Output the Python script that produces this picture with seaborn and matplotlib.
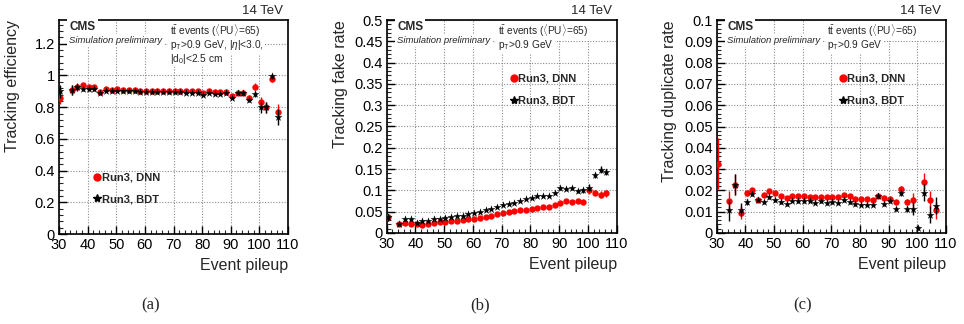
import numpy as np
import pandas as pd
import matplotlib
matplotlib.use("Agg")
import matplotlib.pyplot as plt
import seaborn as sns
from matplotlib.lines import Line2D
from matplotlib.ticker import MultipleLocator

sns.set_theme(style="white")
plt.rcParams['font.family'] = ['Liberation Sans', 'DejaVu Sans']
plt.rcParams['mathtext.fontset'] = 'custom'
plt.rcParams['mathtext.rm'] = 'Liberation Sans'
plt.rcParams['mathtext.it'] = 'Liberation Sans:italic'
plt.rcParams['mathtext.bf'] = 'Liberation Sans:bold'

# ---------------- data ----------------
pileup = [30.4, 34.4, 36.4, 38.4, 40.4, 42.4, 44.4, 46.4, 48.4, 50.4,
          52.4, 54.4, 56.4, 58.4, 60.4, 62.4, 64.4, 66.4, 68.4, 70.4,
          72.4, 74.4, 76.4, 78.4, 80.4, 82.4, 84.4, 86.4, 88.4, 90.4,
          92.4, 94.4, 96.4, 98.4, 100.4, 102.4, 104.4, 106.4]

eff_dnn = [0.86, 0.91, 0.93, 0.94, 0.93, 0.925, 0.895, 0.915, 0.91, 0.915,
           0.91, 0.91, 0.91, 0.905, 0.905, 0.905, 0.905, 0.905, 0.905, 0.905,
           0.905, 0.90, 0.90, 0.90, 0.89, 0.90, 0.895, 0.895, 0.895, 0.87,
           0.89, 0.89, 0.86, 0.93, 0.83, 0.80, 0.975, 0.77]
eff_bdt = [0.90, 0.91, 0.925, 0.915, 0.915, 0.915, 0.89, 0.905, 0.90, 0.905,
           0.90, 0.90, 0.90, 0.895, 0.895, 0.895, 0.895, 0.895, 0.895, 0.895,
           0.895, 0.89, 0.89, 0.89, 0.88, 0.89, 0.885, 0.885, 0.89, 0.86,
           0.89, 0.89, 0.845, 0.885, 0.80, 0.80, 0.995, 0.74]
eff_err = [0.04, 0.03, 0.02, 0.015, 0.012, 0.01, 0.008, 0.007, 0.006, 0.006,
           0.005, 0.005, 0.005, 0.005, 0.005, 0.005, 0.005, 0.005, 0.005, 0.005,
           0.005, 0.005, 0.005, 0.005, 0.005, 0.005, 0.006, 0.006, 0.007, 0.008,
           0.008, 0.01, 0.015, 0.02, 0.035, 0.035, 0.015, 0.05]

fake_dnn = [0.037, 0.020, 0.024, 0.020, 0.020, 0.018, 0.020, 0.024, 0.025, 0.025,
            0.028, 0.029, 0.031, 0.032, 0.033, 0.035, 0.038, 0.041, 0.044, 0.047,
            0.049, 0.052, 0.053, 0.055, 0.057, 0.059, 0.061, 0.062, 0.065, 0.070,
            0.075, 0.073, 0.074, 0.073, 0.100, 0.095, 0.090, 0.093]
fake_bdt = [0.037, 0.022, 0.032, 0.032, 0.024, 0.027, 0.027, 0.032, 0.034, 0.035,
            0.037, 0.040, 0.041, 0.044, 0.048, 0.050, 0.054, 0.057, 0.061, 0.065,
            0.068, 0.070, 0.075, 0.079, 0.083, 0.088, 0.088, 0.087, 0.094, 0.105,
            0.104, 0.105, 0.099, 0.100, 0.106, 0.135, 0.149, 0.143]
fake_err = [0.008, 0.004, 0.003, 0.003, 0.002, 0.002, 0.002, 0.002, 0.002, 0.002,
            0.002, 0.002, 0.002, 0.002, 0.002, 0.002, 0.002, 0.002, 0.002, 0.002,
            0.002, 0.002, 0.002, 0.002, 0.002, 0.002, 0.002, 0.002, 0.002, 0.003,
            0.003, 0.003, 0.004, 0.005, 0.008, 0.006, 0.008, 0.008]

dup_dnn = [0.0325, 0.0148, 0.0227, 0.0095, 0.0187, 0.0200, 0.0156, 0.0180, 0.0195, 0.0187,
           0.0173, 0.0164, 0.0175, 0.0175, 0.0173, 0.0169, 0.0167, 0.0167, 0.0167, 0.0169,
           0.0169, 0.0180, 0.0172, 0.0160, 0.0158, 0.0158, 0.0153, 0.0173, 0.0164, 0.0160,
           0.0145, 0.0208, 0.0145, 0.0156, np.nan, 0.0240, 0.0156, 0.0106]
dup_bdt = [np.nan, 0.0106, 0.0227, 0.0110, 0.0145, 0.0184, 0.0156, 0.0145, 0.0167, 0.0155,
           0.0145, 0.0134, 0.0152, 0.0148, 0.0148, 0.0151, 0.0143, 0.0148, 0.0140, 0.0145,
           0.0142, 0.0153, 0.0145, 0.0136, 0.0133, 0.0133, 0.0133, 0.0172, 0.0137, 0.0150,
           0.0114, 0.0187, 0.0114, 0.0114, 0.0022, 0.0188, 0.0086, 0.0127]
dup_err = [0.012, 0.005, 0.005, 0.003, 0.0015, 0.0012, 0.0008, 0.0008, 0.0008, 0.0008,
           0.0007, 0.0007, 0.0007, 0.0007, 0.0007, 0.0007, 0.0007, 0.0007, 0.0007, 0.0007,
           0.0007, 0.0007, 0.0007, 0.0007, 0.0007, 0.0007, 0.0008, 0.0008, 0.0009, 0.001,
           0.001, 0.0015, 0.0015, 0.003, 0.001, 0.004, 0.004, 0.004]

series_labels = ["Run3, DNN", "Run3, BDT"]
ylabels = ["Tracking efficiency", "Tracking fake rate", "Tracking duplicate rate"]
xlabel = "Event pileup"
panel_tags = ["(a)", "(b)", "(c)"]

# ---------------- figure ----------------
W, H = 964, 324
fig = plt.figure(figsize=(W / 100, H / 100), dpi=100)

panels = [
    dict(dnn=eff_dnn, bdt=eff_bdt, err=eff_err, ylim=(0, 1.35), major=0.2, minor=0.04,
         rect=(59, 20, 229, 214), ylab_x=20, tag_x=151,
         cuts=[r"p$_\mathregular{T}$>0.9 GeV, |$\eta$|<3.0,", r"|d$_\mathregular{0}$|<2.5 cm"],
         leg=(0.128, 0.213)),
    dict(dnn=fake_dnn, bdt=fake_bdt, err=fake_err, ylim=(0, 0.5), major=0.05, minor=0.01,
         rect=(386.7, 20, 230, 213), ylab_x=348, tag_x=480,
         cuts=[r"p$_\mathregular{T}$>0.9 GeV"], leg=(0.513, 0.673)),
    dict(dnn=dup_dnn, bdt=dup_bdt, err=dup_err, ylim=(0, 0.1), major=0.01, minor=0.002,
         rect=(716.7, 20, 229.3, 213), ylab_x=677, tag_x=803,
         cuts=[r"p$_\mathregular{T}$>0.9 GeV"], leg=(0.51, 0.673)),
]


def tick_fmt(v, pos):
    v = round(v, 6)
    if v == 0:
        return "0"
    return f"{v:g}"


for i, p in enumerate(panels):
    l, t, w, h = p["rect"]
    ax = fig.add_axes([l / W, (H - t - h) / H, w / W, h / H])

    df_dnn = pd.DataFrame({"pileup": pileup, "rate": p["dnn"]})
    df_bdt = pd.DataFrame({"pileup": pileup, "rate": p["bdt"]})

    ax.errorbar(pileup, p["dnn"], yerr=p["err"], fmt="none", ecolor="red",
                elinewidth=1.0, zorder=3)
    sns.scatterplot(data=df_dnn, x="pileup", y="rate", ax=ax, color="red",
                    marker="o", s=21, edgecolor="red", linewidth=0, zorder=4,
                    legend=False)
    ax.errorbar(pileup, p["bdt"], yerr=p["err"], fmt="none", ecolor="black",
                elinewidth=1.0, zorder=5)
    sns.scatterplot(data=df_bdt, x="pileup", y="rate", ax=ax, color="black",
                    marker="*", s=36, edgecolor="black", linewidth=0, zorder=6,
                    legend=False)

    ax.set_xlim(30, 110)
    ax.set_ylim(*p["ylim"])
    ax.xaxis.set_major_locator(MultipleLocator(10))
    ax.xaxis.set_minor_locator(MultipleLocator(2))
    ax.yaxis.set_major_locator(MultipleLocator(p["major"]))
    ax.yaxis.set_minor_locator(MultipleLocator(p["minor"]))
    ax.yaxis.set_major_formatter(matplotlib.ticker.FuncFormatter(tick_fmt))
    ax.tick_params(axis="both", which="major", direction="in", length=6, width=1.0,
                   labelsize=10.5, colors="black", bottom=True, left=True)
    ax.tick_params(axis="x", which="major", pad=3)
    ax.tick_params(axis="y", which="major", pad=3)
    ax.tick_params(axis="both", which="minor", direction="in", length=3, width=0.8,
                   bottom=True, left=True)
    ax.grid(True, which="major", color="#8c8c8c", linestyle=(0, (1, 1.5)), linewidth=0.8)
    ax.set_axisbelow(True)
    for sp in ax.spines.values():
        sp.set_color("black")
        sp.set_linewidth(1.2)

    ax.set_xlabel(xlabel, fontsize=11.5, loc="right", labelpad=4)
    ax.set_ylabel(ylabels[i], fontsize=11.5, loc="top")
    ax.yaxis.set_label_coords((p["ylab_x"] - l) / w, 1.0)

    # CMS labels
    ax.text(0.045, 0.969, "CMS", transform=ax.transAxes, fontsize=8.5,
            fontweight="bold", va="center", ha="left", zorder=7,
            bbox=dict(facecolor="white", edgecolor="none", pad=1.5))
    ax.text(0.045, 0.905, "Simulation preliminary", transform=ax.transAxes,
            fontsize=6.8, style="italic", va="center", ha="left", zorder=7,
            bbox=dict(facecolor="white", edgecolor="none", pad=1.5))
    lines = [r"t$\mathregular{\bar{t}}$ events ($\langle$PU$\rangle$=65)"] + p["cuts"]
    ys = [0.949, 0.883, 0.82]
    for txt, yy in zip(lines, ys):
        ax.text(0.483, yy, txt, transform=ax.transAxes, fontsize=7.3,
                va="center", ha="left", zorder=7,
                bbox=dict(facecolor="white", edgecolor="none", pad=1.2))

    ax.text(0.98, 1.015, "14 TeV", transform=ax.transAxes, fontsize=9.5,
            ha="right", va="bottom")

    handles = [Line2D([], [], marker="o", color="red", linestyle="none", markersize=5),
               Line2D([], [], marker="*", color="black", linestyle="none", markersize=6)]
    leg = ax.legend(handles, series_labels, loc="center left",
                    bbox_to_anchor=p["leg"], frameon=False, handlelength=0.6,
                    handletextpad=0.1, labelspacing=1.05, borderpad=0,
                    prop={"weight": "bold", "size": 8})
    leg.set_zorder(8)

    fig.text(p["tag_x"] / W, 1 - 305 / H, panel_tags[i], fontsize=12, ha="center",
             va="center", family=["Liberation Serif", "DejaVu Serif"])

fig.savefig("out.png", dpi=100, facecolor="white")
